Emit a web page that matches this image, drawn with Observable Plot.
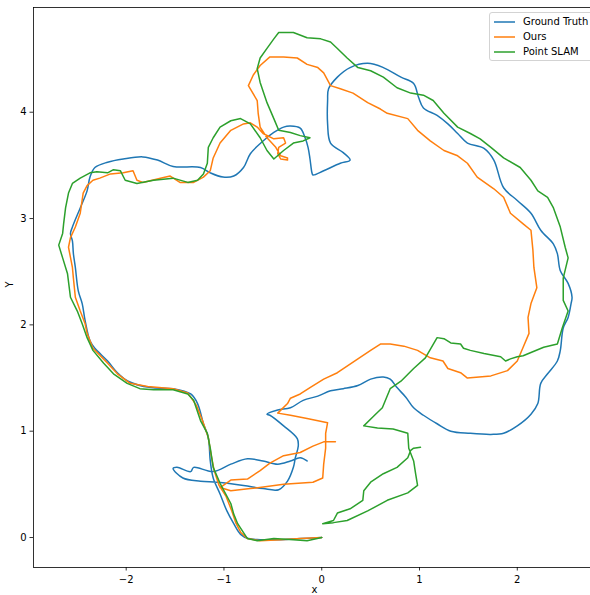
<!DOCTYPE html>
<html>
<head>
<meta charset="utf-8">
<script src="https://cdn.jsdelivr.net/npm/d3@7"></script>
<script src="https://cdn.jsdelivr.net/npm/@observablehq/plot@0.6"></script>
<style>
  html, body { margin: 0; padding: 0; overflow: hidden; background: #fff; }
  #wrap { position: relative; width: 590px; height: 595px; overflow: hidden; }
  #wrap > svg { max-width: none !important; width: 600px; height: 595px; display: block; }
  #legend { position: absolute; left: 489px; top: 12px; width: 106px; height: 49px; box-sizing: border-box;
            border: 1px solid #d3d3d3; border-radius: 3px; background: rgba(255,255,255,0.8);
            font-family: "DejaVu Sans", sans-serif; font-size: 10px; color: #000; }
  .row { position: absolute; left: 0; height: 14px; }
  .row svg { position: absolute; left: 4px; top: 0; }
  .row span { position: absolute; left: 33px; top: 0; line-height: 14px; white-space: nowrap; }
</style>
</head>
<body>
<div id="wrap"></div>
<script>
// Trajectories (x, Y)
const groundTruth = [
  [0.00,0.00],[-0.22,-0.01],[-0.42,-0.02],[-0.63,-0.02],[-0.75,-0.01],[-0.83,0.03],[-0.90,0.13],[-0.97,0.25],
  [-1.04,0.41],[-1.11,0.56],[-1.14,0.72],[-1.16,0.94],[-1.21,1.07],[-1.27,1.26],[-1.34,1.35],[-1.52,1.40],
  [-1.75,1.41],[-1.98,1.47],[-2.09,1.55],[-2.19,1.66],[-2.32,1.78],[-2.37,1.85],[-2.42,2.04],[-2.45,2.20],
  [-2.49,2.32],[-2.52,2.54],[-2.54,2.67],[-2.55,2.79],[-2.57,2.86],[-2.55,2.92],[-2.47,3.10],[-2.40,3.26],
  [-2.37,3.39],[-2.32,3.48],[-2.19,3.53],[-2.03,3.56],[-1.83,3.58],[-1.68,3.55],[-1.52,3.49],[-1.24,3.48],
  [-1.14,3.43],[-1.01,3.39],[-0.90,3.40],[-0.80,3.48],[-0.73,3.61],[-0.60,3.73],[-0.49,3.81],[-0.39,3.86],
  [-0.32,3.87],[-0.22,3.85],[-0.17,3.76],[-0.14,3.67],[-0.12,3.56],[-0.10,3.43],[-0.09,3.41],[0.02,3.45],
  [0.19,3.52],[0.29,3.55],[0.22,3.62],[0.09,3.71],[0.06,3.89],[0.06,4.11],[0.07,4.22],[0.16,4.33],
  [0.29,4.42],[0.47,4.46],[0.63,4.42],[0.81,4.33],[0.94,4.27],[0.99,4.14],[1.04,4.04],[1.18,3.97],
  [1.29,3.89],[1.39,3.80],[1.49,3.71],[1.66,3.66],[1.76,3.55],[1.86,3.29],[2.00,3.17],[2.14,3.05],
  [2.24,2.89],[2.37,2.76],[2.41,2.67],[2.44,2.51],[2.52,2.39],[2.56,2.26],[2.55,2.20],[2.52,2.07],
  [2.47,1.97],[2.44,1.76],[2.41,1.66],[2.31,1.54],[2.24,1.45],[2.21,1.26],[2.14,1.16],[2.00,1.05],
  [1.86,0.98],[1.73,0.97],[1.52,0.98],[1.32,1.00],[1.18,1.07],[1.04,1.15],[0.94,1.22],[0.86,1.32],
  [0.77,1.41],[0.70,1.49],[0.63,1.51],[0.50,1.49],[0.37,1.43],[0.22,1.40],[0.09,1.38],[-0.04,1.33],
  [-0.19,1.29],[-0.32,1.22],[-0.45,1.20],[-0.56,1.16],[-0.53,1.15],[-0.39,1.05],[-0.25,0.93],[-0.24,0.86],
  [-0.27,0.75],[-0.29,0.66],[-0.35,0.53],[-0.44,0.45],[-0.60,0.46],[-0.80,0.49],[-1.07,0.52],[-1.24,0.53],
  [-1.42,0.56],[-1.52,0.65],[-1.48,0.66],[-1.34,0.62],[-1.31,0.66],[-1.11,0.62],[-0.93,0.69],[-0.76,0.74],
  [-0.60,0.72],[-0.45,0.69],[-0.32,0.72],[-0.22,0.75],[-0.15,0.72]
];
const ours = [
  [0.00,0.00],[-0.22,-0.01],[-0.42,-0.02],[-0.63,-0.03],[-0.76,-0.01],[-0.83,0.05],[-0.88,0.14],[-0.92,0.25],
  [-0.98,0.39],[-1.05,0.49],[-1.10,0.63],[-1.13,0.77],[-1.16,0.94],[-1.22,1.10],[-1.28,1.24],[-1.34,1.32],
  [-1.37,1.36],[-1.52,1.40],[-1.78,1.42],[-1.96,1.45],[-2.09,1.54],[-2.19,1.64],[-2.34,1.78],[-2.40,1.92],
  [-2.42,2.01],[-2.47,2.13],[-2.52,2.26],[-2.54,2.44],[-2.55,2.54],[-2.59,2.73],[-2.57,2.82],[-2.52,2.92],
  [-2.47,3.05],[-2.44,3.24],[-2.40,3.31],[-2.34,3.36],[-2.27,3.38],[-2.16,3.42],[-2.03,3.43],[-1.93,3.45],
  [-1.89,3.36],[-1.83,3.34],[-1.65,3.38],[-1.55,3.40],[-1.45,3.34],[-1.31,3.34],[-1.21,3.39],[-1.14,3.45],
  [-1.11,3.57],[-1.04,3.71],[-0.93,3.83],[-0.80,3.89],[-0.73,3.90],[-0.66,3.86],[-0.60,3.80],[-0.49,3.75],
  [-0.39,3.76],[-0.37,3.71],[-0.44,3.67],[-0.45,3.61],[-0.42,3.56],[-0.35,3.55],[-0.35,3.57],[-0.42,3.59],
  [-0.47,3.67],[-0.56,3.76],[-0.63,3.86],[-0.65,3.99],[-0.66,4.11],[-0.75,4.25],[-0.70,4.35],[-0.63,4.44],
  [-0.53,4.52],[-0.39,4.52],[-0.25,4.51],[-0.15,4.45],[-0.04,4.42],[0.02,4.37],[0.09,4.25],[0.19,4.22],
  [0.32,4.18],[0.47,4.09],[0.60,4.03],[0.67,3.99],[0.88,3.94],[0.98,3.83],[1.11,3.73],[1.25,3.64],
  [1.39,3.59],[1.49,3.52],[1.59,3.39],[1.76,3.28],[1.86,3.20],[1.93,3.05],[2.06,2.95],[2.14,2.89],
  [2.16,2.70],[2.17,2.54],[2.20,2.35],[2.14,2.20],[2.11,2.07],[2.12,1.92],[2.06,1.79],[2.00,1.66],
  [1.90,1.57],[1.73,1.52],[1.49,1.50],[1.42,1.55],[1.29,1.59],[1.24,1.66],[1.11,1.69],[0.98,1.76],
  [0.84,1.80],[0.70,1.82],[0.60,1.82],[0.50,1.76],[0.37,1.68],[0.16,1.55],[0.02,1.49],[-0.12,1.41],
  [-0.22,1.35],[-0.32,1.31],[-0.35,1.26],[-0.45,1.17],[-0.32,1.15],[-0.15,1.12],[0.06,1.08],[0.04,0.98],
  [0.04,0.84],[0.02,0.69],[0.01,0.56],[-0.09,0.52],[-0.39,0.50],[-0.73,0.46],[-0.93,0.44],[-1.04,0.47],
  [-0.93,0.54],[-0.76,0.55],[-0.63,0.63],[-0.53,0.70],[-0.39,0.77],[-0.22,0.80],[-0.09,0.86],[0.02,0.90],
  [0.14,0.90]
];
const pointSlam = [
  [0.00,0.00],[-0.15,-0.03],[-0.29,-0.02],[-0.49,-0.01],[-0.66,-0.03],[-0.76,-0.01],[-0.86,0.13],[-0.90,0.22],
  [-0.93,0.32],[-1.04,0.51],[-1.11,0.66],[-1.14,0.84],[-1.17,0.98],[-1.24,1.10],[-1.31,1.29],[-1.37,1.35],
  [-1.52,1.39],[-1.72,1.39],[-1.86,1.40],[-1.99,1.45],[-2.13,1.54],[-2.23,1.64],[-2.34,1.76],[-2.40,1.88],
  [-2.45,2.01],[-2.50,2.13],[-2.57,2.26],[-2.60,2.48],[-2.65,2.63],[-2.69,2.75],[-2.65,2.86],[-2.64,2.95],
  [-2.62,3.10],[-2.59,3.24],[-2.55,3.33],[-2.47,3.38],[-2.37,3.43],[-2.30,3.44],[-2.19,3.43],[-2.13,3.46],
  [-2.06,3.45],[-2.01,3.36],[-1.89,3.33],[-1.72,3.36],[-1.52,3.38],[-1.37,3.34],[-1.27,3.36],[-1.21,3.42],
  [-1.17,3.52],[-1.16,3.67],[-1.11,3.76],[-1.04,3.86],[-0.93,3.92],[-0.83,3.94],[-0.73,3.89],[-0.63,3.76],
  [-0.56,3.64],[-0.49,3.56],[-0.39,3.64],[-0.29,3.71],[-0.19,3.73],[-0.12,3.76],[-0.22,3.78],[-0.32,3.81],
  [-0.44,3.83],[-0.49,3.94],[-0.56,4.09],[-0.63,4.28],[-0.66,4.41],[-0.63,4.51],[-0.56,4.60],[-0.49,4.69],
  [-0.44,4.75],[-0.29,4.75],[-0.15,4.70],[-0.01,4.69],[0.09,4.66],[0.16,4.60],[0.26,4.51],[0.37,4.42],
  [0.50,4.39],[0.63,4.33],[0.77,4.23],[0.91,4.18],[1.04,4.16],[1.14,4.11],[1.25,3.99],[1.39,3.86],
  [1.52,3.80],[1.62,3.75],[1.73,3.67],[1.86,3.57],[2.03,3.48],[2.14,3.36],[2.21,3.26],[2.31,3.20],
  [2.37,3.10],[2.44,2.92],[2.49,2.73],[2.52,2.63],[2.47,2.44],[2.47,2.23],[2.52,2.13],[2.46,1.97],
  [2.41,1.82],[2.27,1.79],[2.14,1.74],[2.06,1.71],[2.00,1.70],[1.93,1.68],[1.88,1.66],[1.83,1.70],
  [1.66,1.73],[1.52,1.76],[1.45,1.78],[1.42,1.82],[1.32,1.83],[1.25,1.87],[1.18,1.88],[1.06,1.69],
  [0.94,1.59],[0.81,1.47],[0.70,1.40],[0.62,1.22],[0.53,1.14],[0.43,1.05],[0.57,1.03],[0.73,1.02],
  [0.88,0.98],[0.89,0.84],[0.94,0.72],[0.96,0.60],[0.98,0.49],[0.88,0.42],[0.67,0.35],[0.47,0.25],
  [0.26,0.16],[0.12,0.14],[0.01,0.13],[0.12,0.16],[0.16,0.23],[0.29,0.27],[0.42,0.35],[0.43,0.44],
  [0.50,0.52],[0.63,0.60],[0.77,0.66],[0.88,0.75],[0.91,0.82],[0.94,0.84],[1.01,0.85]
];
const seriesNames = ["Ground Truth", "Ours", "Point SLAM"];
const seriesColors = ["#1f77b4", "#ff7f0e", "#2ca02c"];
const xTicks = [-2, -1, 0, 1, 2];
const yTicks = [0, 1, 2, 3, 4];
const xLabel = "x";
const yLabel = "Y";

const fmt = d => (d < 0 ? "\u2212" : "") + Math.abs(d);
const series = [groundTruth, ours, pointSlam];

const chart = Plot.plot({
  width: 600,
  height: 595,
  marginLeft: 33,
  marginRight: 5,
  marginTop: 7,
  marginBottom: 28,
  style: { fontFamily: "DejaVu Sans, sans-serif", fontSize: "10px", color: "#000", background: "#fff", maxWidth: "none" },
  x: { domain: [-2.948, 2.80] },
  y: { domain: [-0.282, 4.985] },
  marks: [
    ...series.map((s, i) => Plot.line(s, {
      x: d => d[0], y: d => d[1], stroke: seriesColors[i], strokeWidth: 1.5,
      curve: i === 0 ? "catmull-rom" : "linear"
    })),
    Plot.frame({ stroke: "#000", strokeWidth: 0.8 }),
    Plot.axisX({ ticks: xTicks, tickFormat: fmt, tickSize: 3.5, tickPadding: 4.5, strokeWidth: 0.8, label: null, fontSize: 10 }),
    Plot.axisY({ ticks: yTicks, tickFormat: fmt, tickSize: 3.5, tickPadding: 3.5, strokeWidth: 0.8, label: null, fontSize: 10 }),
    Plot.text([xLabel], { text: d => d, frameAnchor: "bottom", dy: 25, fontSize: 10 }),
    Plot.text([yLabel], { text: d => d, frameAnchor: "left", dx: -24, rotate: -90, fontSize: 10 })
  ]
});

const wrap = document.getElementById("wrap");
wrap.appendChild(chart);

const legend = document.createElement("div");
legend.id = "legend";
seriesNames.forEach((name, i) => {
  const row = document.createElement("div");
  row.className = "row";
  row.style.top = (1.5 + 15 * i) + "px";
  row.innerHTML = `<svg width="22" height="14"><line x1="0" y1="7" x2="21" y2="7" stroke="${seriesColors[i]}" stroke-width="1.5"/></svg><span>${name}</span>`;
  legend.appendChild(row);
});
wrap.appendChild(legend);
</script>
</body>
</html>
